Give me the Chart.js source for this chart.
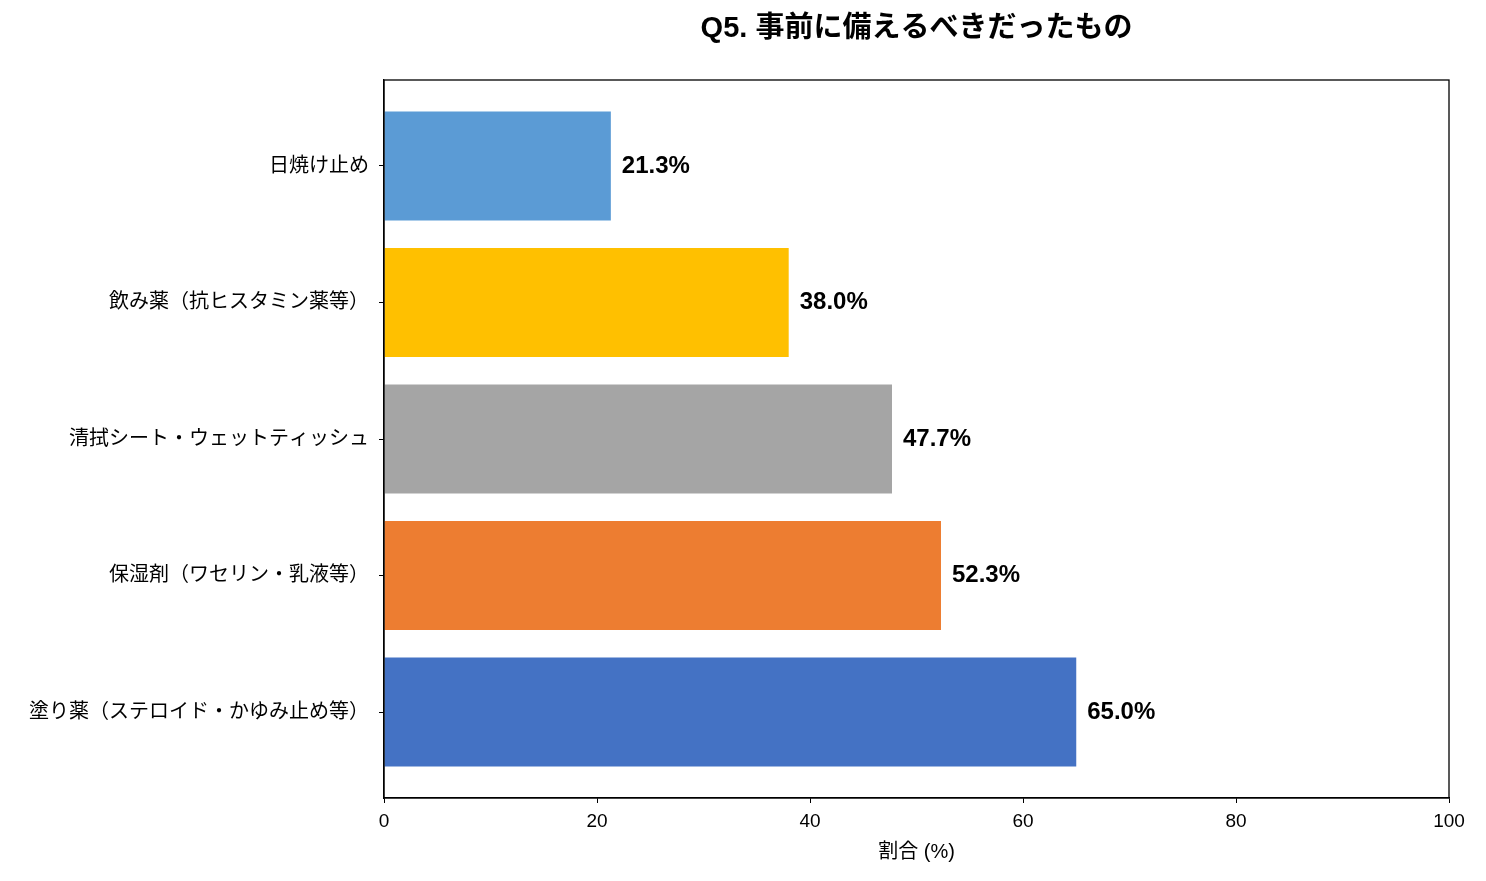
<!DOCTYPE html>
<html lang="ja">
<head>
<meta charset="utf-8">
<script src="https://cdn.jsdelivr.net/npm/chart.js@4.4.1/dist/chart.umd.min.js"></script>
<style>
  html, body { margin: 0; padding: 0; background: #fff; }
  #wrap { width: 1486px; height: 881px; }
</style>
</head>
<body>
<div id="wrap"><canvas id="chart" width="1486" height="881"></canvas></div>
<script>
// データ（上から順）
const categories = [
    '日焼け止め',
    '飲み薬（抗ヒスタミン薬等）',
    '清拭シート・ウェットティッシュ',
    '保湿剤（ワセリン・乳液等）',
    '塗り薬（ステロイド・かゆみ止め等）'
];
const values = [21.3, 38.0, 47.7, 52.3, 65.0];
const barColors = ['#5B9BD5', '#FFC000', '#A5A5A5', '#ED7D31', '#4472C4'];
const xTicks = [0, 20, 40, 60, 80, 100];
const titleText = 'Q5. 事前に備えるべきだったもの';

const jpFont = '"Liberation Sans", "Noto Sans CJK JP", sans-serif';

// 枠線（上・右も含む）とタイトル（プロット領域の中央）
const frame = {
    id: 'frame',
    afterDraw(chart) {
        const { ctx, chartArea: a } = chart;
        ctx.save();
        ctx.strokeStyle = '#000';
        ctx.lineWidth = 1.3;
        ctx.strokeRect(a.left, a.top, a.right - a.left, a.bottom - a.top);
        ctx.font = 'bold 29px ' + jpFont;
        ctx.fillStyle = '#000';
        ctx.textAlign = 'center';
        ctx.textBaseline = 'middle';
        ctx.fillText(titleText, (a.left + a.right) / 2, 29);
        ctx.restore();
    }
};

// バー右側の数値ラベル
const valueLabels = {
    id: 'valueLabels',
    afterDatasetsDraw(chart) {
        const { ctx } = chart;
        const meta = chart.getDatasetMeta(0);
        ctx.save();
        ctx.font = 'bold 24px ' + jpFont;
        ctx.fillStyle = '#000';
        ctx.textAlign = 'left';
        ctx.textBaseline = 'middle';
        meta.data.forEach((bar, i) => {
            ctx.fillText(values[i].toFixed(1) + '%', bar.x + 11, bar.y);
        });
        ctx.restore();
    }
};

new Chart(document.getElementById('chart'), {
    type: 'bar',
    data: {
        datasets: [{
            data: values.map((v, i) => ({ x: v, y: i })),
            backgroundColor: barColors,
            borderWidth: 0,
            barPercentage: 0.8,
            categoryPercentage: 1.0
        }]
    },
    options: {
        indexAxis: 'y',
        responsive: false,
        animation: false,
        layout: { padding: { left: 0, right: 37, top: 80, bottom: 13 } },
        plugins: {
            legend: { display: false },
            tooltip: { enabled: false },
            title: { display: false }
        },
        scales: {
            x: {
                type: 'linear',
                min: 0,
                max: 100,
                afterBuildTicks: scale => { scale.ticks = xTicks.map(v => ({ value: v })); },
                afterFit: scale => { scale.height = 70; },
                border: { display: true, color: '#000', width: 1.3 },
                grid: { display: true, drawOnChartArea: false, drawTicks: true, tickLength: 5, tickColor: '#000' },
                ticks: { color: '#000', padding: 7, font: { family: jpFont, size: 19 } },
                title: {
                    display: true,
                    text: '割合 (%)',
                    color: '#000',
                    padding: { top: 0, bottom: 4 },
                    font: { family: jpFont, size: 20 }
                }
            },
            y: {
                type: 'linear',
                reverse: true,
                offset: false,
                min: -0.63,
                max: 4.63,
                afterBuildTicks: scale => { scale.ticks = categories.map((c, i) => ({ value: i })); },
                afterFit: scale => { scale.width = 384; },
                border: { display: true, color: '#000', width: 1.3 },
                grid: { display: true, offset: false, drawOnChartArea: false, drawTicks: true, tickLength: 5, tickColor: '#000' },
                ticks: {
                    color: '#000',
                    padding: 10,
                    font: { family: jpFont, size: 20 },
                    callback: v => categories[v]
                }
            }
        }
    },
    plugins: [frame, valueLabels]
});
</script>
</body>
</html>
